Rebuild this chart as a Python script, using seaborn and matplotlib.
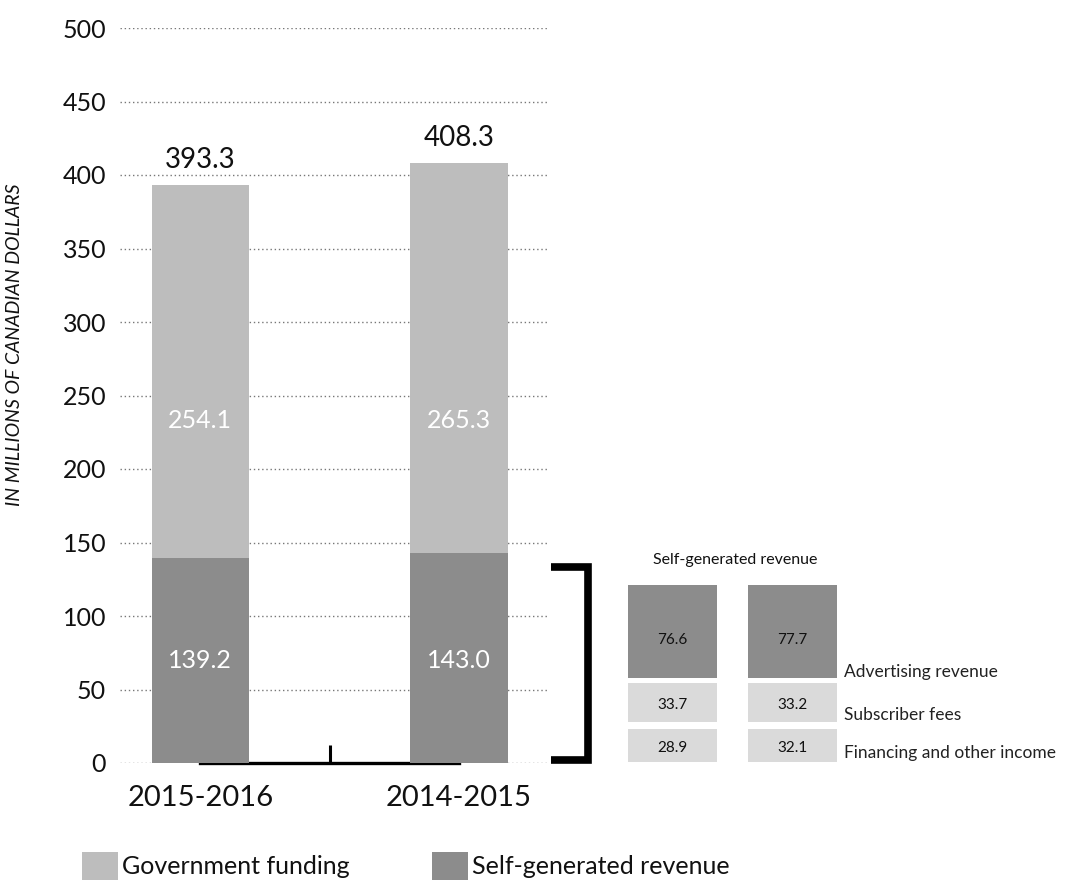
import matplotlib
matplotlib.use("Agg")
import matplotlib.pyplot as plt
import seaborn as sns
import pandas as pd
from matplotlib.patches import Patch
from matplotlib.lines import Line2D

# ---- data ----
years = ["2015-2016", "2014-2015"]
government_funding = [254.1, 265.3]
self_generated = [139.2, 143.0]
totals = [393.3, 408.3]

breakdown_labels = ["Advertising revenue", "Subscriber fees", "Financing and other income"]
advertising = [76.6, 77.7]
subscriber_fees = [33.7, 33.2]
financing_other = [28.9, 32.1]

yticks = [0, 50, 100, 150, 200, 250, 300, 350, 400, 450, 500]

# ---- style ----
sns.set_theme(style="white")
plt.rcParams['font.family'] = ['Lato', 'DejaVu Sans']

LIGHT = "#bdbdbd"
DARK = "#8c8c8c"
PALE = "#dadada"

W, H = 1075, 886
fig = plt.figure(figsize=(W / 100, H / 100), dpi=100)

def fx(px):
    return px / W

def fy(py):
    return 1 - py / H

ax_left, ax_right, ax_top, ax_bottom = 120, 547, 28, 763
ax = fig.add_axes([fx(ax_left), fy(ax_bottom), fx(ax_right - ax_left), (ax_bottom - ax_top) / H])

df = pd.DataFrame({"year": years, "total": totals, "self": self_generated, "gov": government_funding})
sns.barplot(data=df, x="year", y="total", color=LIGHT, saturation=1, width=0.375, ax=ax)
sns.barplot(data=df, x="year", y="self", color=DARK, saturation=1, width=0.375, ax=ax)
for p in ax.patches:
    p.set_zorder(3)
    p.set_edgecolor("none")

ax.set_xlim(-0.31, 1.34)
ax.set_ylim(0, 500)
ax.set_yticks(yticks)
ax.set_yticklabels([str(t) for t in yticks], fontsize=18, color="#111111")
ax.set_axisbelow(True)
ax.grid(axis="y", linestyle=(0, (1, 2)), color="#777777", linewidth=1.0)
ax.grid(axis="x", visible=False)
for s in ["top", "right", "left"]:
    ax.spines[s].set_visible(False)
ax.spines["bottom"].set_color("black")
ax.spines["bottom"].set_linewidth(2.4)
ax.spines["bottom"].set_bounds(0, 1)
ax.spines["bottom"].set_zorder(2)
ax.tick_params(axis="y", length=0, pad=10)
ax.tick_params(axis="x", which="major", bottom=True, length=0, pad=16, labelsize=21, labelcolor="#111111")
ax.set_xticks([0.5], minor=True)
ax.tick_params(axis="x", which="minor", bottom=True, direction="in", length=13, width=2.2, color="black")
ax.set_xlabel("")
ax.set_ylabel("IN MILLIONS OF CANADIAN DOLLARS", fontsize=14, style="italic", color="#111111")
ax.yaxis.set_label_coords(-0.227, 0.569)

# value labels
for i, (t, g, s) in enumerate(zip(totals, government_funding, self_generated)):
    ax.text(i, t + 8, f"{t:.1f}", ha="center", va="bottom", fontsize=20, color="#111111", zorder=5)
    ax.text(i, 233, f"{g:.1f}", ha="center", va="center", fontsize=18, color="white", zorder=5)
    ax.text(i, 70, f"{s:.1f}", ha="center", va="center", fontsize=18, color="white", zorder=5)

# bracket
bx = [551, 588, 588, 551]
by = [567, 567, 760, 760]
fig.add_artist(Line2D([fx(v) for v in bx], [fy(v) for v in by], color="black",
                      linewidth=5.5, solid_joinstyle="miter", solid_capstyle="butt",
                      transform=fig.transFigure))

# ---- breakdown panel ----
bl, br, bt, bb = 628, 837, 585, 762
ax2 = fig.add_axes([fx(bl), fy(bb), fx(br - bl), (bb - bt) / H])
ax2.set_xlim(0, br - bl)
ax2.set_ylim(bb - bt, 0)
ax2.axis("off")

col_centers = [44.5, 164.5]
col_width = 89
rows = [(0, 93), (98, 137), (144, 177)]
row_colors = [DARK, PALE, PALE]
row_text_y = [55, 120, 163]
label_y = [87, 130, 168]
series = [advertising, subscriber_fees, financing_other]
for r, (vals, (top, bot), c) in enumerate(zip(series, rows, row_colors)):
    ax2.bar(col_centers, [bot - top] * 2, bottom=top, width=col_width, color=c, edgecolor="none")
    for cx, v in zip(col_centers, vals):
        ax2.text(cx, row_text_y[r], f"{v:.1f}", ha="center", va="center", fontsize=11, color="#111111")
    ax2.text(216, label_y[r], breakdown_labels[r], ha="left", va="center", fontsize=12.5,
             color="#222222", clip_on=False)
ax2.text(107, -25, "Self-generated revenue", ha="center", va="center", fontsize=11.5,
         color="#111111", clip_on=False)

# ---- legend ----
handles = [Patch(facecolor=LIGHT, edgecolor="none"), Patch(facecolor=DARK, edgecolor="none")]
fig.legend(handles, ["Government funding", "Self-generated revenue"], loc="center left",
           bbox_to_anchor=(fx(82), fy(866)), ncol=2, frameon=False, fontsize=18,
           handlelength=1.44, handleheight=1.3, handletextpad=0.16, columnspacing=3.3,
           borderpad=0, borderaxespad=0, labelcolor="#111111")

fig.savefig("out.png", dpi=100)
